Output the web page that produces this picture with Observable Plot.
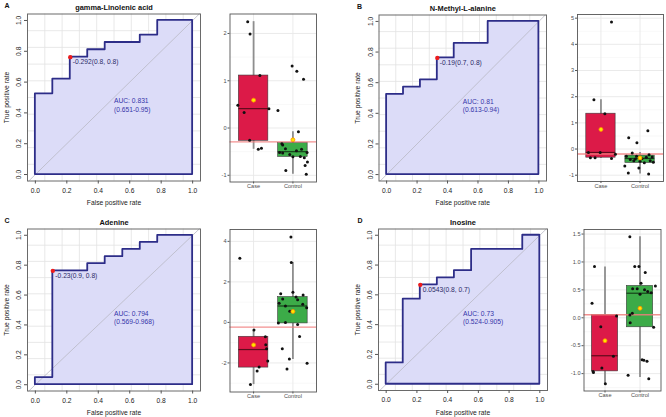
<!DOCTYPE html>
<html>
<head>
<meta charset="utf-8">
<script src="https://cdn.jsdelivr.net/npm/d3@7"></script>
<script src="https://cdn.jsdelivr.net/npm/@observablehq/plot@0.6"></script>
<style>
  body { margin: 0; background: white; }
  #chart { position: relative; width: 666px; height: 417px; background: white; overflow: hidden; }
  #chart svg { position: absolute; }
</style>
</head>
<body>
<div id="chart"></div>
<script>
// ---------- DATA ----------
const panelLetters = ["A", "B", "C", "D"];
const metabolites = ["gamma-Linolenic acid", "N-Methyl-L-alanine", "Adenine", "Inosine"];
const groups = ["Case", "Control"];

// ROC step points (false positive rate, true positive rate)
const rocA_fpr = [0, 0, 0.111, 0.222, 0.333, 0.444, 0.667, 0.778, 1];
const rocA_tpr = [0, 0.524, 0.619, 0.762, 0.810, 0.857, 0.905, 1, 1];
const rocB_fpr = [0, 0, 0.111, 0.222, 0.333, 0.444, 0.667, 1];
const rocB_tpr = [0, 0.524, 0.571, 0.619, 0.762, 0.857, 1, 1];
const rocC_fpr = [0, 0, 0.111, 0.333, 0.444, 0.556, 0.667, 0.778, 1];
const rocC_tpr = [0, 0.048, 0.762, 0.810, 0.857, 0.905, 0.952, 1, 1];
const rocD_fpr = [0, 0, 0.111, 0.222, 0.333, 0.444, 0.556, 0.889, 1];
const rocD_tpr = [0, 0.143, 0.571, 0.667, 0.714, 0.762, 0.905, 1, 1];

// best threshold point on each ROC curve
const thrFpr = [0.222, 0.333, 0.111, 0.222];
const thrTpr = [0.762, 0.762, 0.762, 0.667];
const thrLabels = ["-0.292(0.8, 0.8)", "-0.19(0.7, 0.8)", "-0.23(0.9, 0.8)", "0.0543(0.8, 0.7)"];
const thrCut = [-0.292, -0.19, -0.23, 0.0543];
const aucLabels = ["AUC: 0.831", "AUC: 0.81", "AUC: 0.794", "AUC: 0.73"];
const ciLabels = ["(0.651-0.95)", "(0.613-0.94)", "(0.569-0.968)", "(0.524-0.905)"];

const rocTicks = [0, 0.2, 0.4, 0.6, 0.8, 1.0];

// box statistics: [lower whisker, Q1, median, Q3, upper whisker, mean]
const boxA_case = [-0.45, -0.27, 0.41, 1.11, 2.25, 0.59];
const boxA_ctrl = [-0.98, -0.61, -0.50, -0.32, -0.08, -0.25];
const boxB_case = [-0.36, -0.33, -0.13, 1.35, 1.88, 0.75];
const boxB_ctrl = [-0.95, -0.53, -0.36, -0.25, -0.13, -0.34];
const boxC_case = [-3.07, -2.23, -1.34, -0.71, -0.38, -1.11];
const boxC_ctrl = [-1.83, -0.05, 0.81, 1.25, 2.95, 0.54];
const boxD_case = [-1.18, -0.96, -0.68, 0.05, 0.91, -0.41];
const boxD_ctrl = [-1.07, -0.17, 0.44, 0.57, 1.45, 0.17];

// individual samples: values and horizontal jitter (in category units)
const ptsA_caseY = [2.25, 1.99, 1.11, 0.48, 0.33, 0.41, -0.26, -0.45, -0.43];
const ptsA_caseJ = [-0.15, -0.09, 0.16, -0.40, -0.24, 0.39, -0.10, 0.12, 0.20];
const ptsA_ctrlY = [0.37, 1.31, 1.20, 1.03, -0.08, -0.33, -0.36, -0.44, -0.52, -0.53, -0.56, -0.61, -0.60, -0.63, -0.52, -0.72, -0.79, -0.90, -0.98, -0.48, -0.45];
const ptsA_ctrlJ = [-0.38, -0.02, 0.10, 0.27, 0.14, -0.28, -0.26, -0.19, -0.34, -0.26, -0.08, 0.00, 0.19, 0.29, 0.36, 0.37, 0.31, -0.18, 0.34, 0.09, 0.22];

const ptsB_caseY = [1.88, 1.35, 4.85, -0.13, -0.13, -0.20, -0.33, -0.33, -0.36];
const ptsB_caseJ = [-0.18, 0.10, 0.27, -0.32, -0.02, 0.37, -0.27, -0.15, 0.27];
const ptsB_ctrlY = [0.43, 0.24, 0.70, -0.65, -0.92, -0.72, -0.95, -0.15, -0.45, -0.36, -0.22, -0.45, -0.47, -0.40, -0.31, -0.30, -0.28, -0.52, -0.28, -0.50, -0.38];
const ptsB_ctrlJ = [-0.29, -0.08, 0.20, -0.39, -0.30, -0.03, 0.22, -0.20, -0.16, 0.05, 0.23, 0.26, 0.00, -0.25, 0.16, 0.31, -0.35, 0.11, -0.09, 0.34, -0.12];

const ptsC_caseY = [3.17, -0.38, -0.71, -1.10, -1.30, -1.90, -2.20, -2.40, -3.07];
const ptsC_caseJ = [-0.35, 0.01, 0.30, 0.31, 0.33, 0.36, 0.14, 0.09, -0.08];
const ptsC_ctrlY = [4.22, 2.95, 1.49, 1.42, 1.15, 1.25, 1.12, 1.35, 0.95, 0.81, 0.90, 0.72, 0.55, -0.03, 0.00, -0.10, -0.69, -1.30, -1.80, -2.30, -2.02];
const ptsC_ctrlJ = [-0.05, -0.04, 0.00, -0.31, -0.26, 0.08, 0.12, 0.26, -0.35, -0.19, 0.25, 0.35, -0.08, -0.37, -0.19, 0.12, 0.17, -0.27, -0.09, -0.15, 0.36];

const ptsD_caseY = [0.92, 0.26, -0.16, 0.03, -0.69, -0.90, -0.96, -0.98, -1.18];
const ptsD_caseJ = [-0.30, -0.37, -0.12, 0.33, 0.24, -0.09, -0.34, -0.33, 0.01];
const ptsD_ctrlY = [1.45, 0.92, 0.92, 0.81, 0.62, 0.52, 0.52, 0.42, 0.50, 0.47, 0.45, 0.57, 0.05, 0.08, -0.09, -0.17, -0.75, -0.76, -0.78, -1.03, -1.09];
const ptsD_ctrlJ = [-0.29, -0.15, -0.03, 0.15, 0.03, -0.21, -0.08, 0.00, 0.13, 0.22, 0.32, 0.44, -0.29, -0.22, -0.28, 0.39, 0.06, 0.11, 0.20, -0.34, 0.25];

const boxTicksA = [-1, 0, 1, 2];
const boxTicksB = [-1, 0, 1, 2, 3, 4, 5];
const boxTicksC = [-2, 0, 2, 4];
const boxTicksD = [-1, -0.5, 0, 0.5, 1, 1.5];

// ---------- LAYOUT (page pixels) ----------
// svg box [left, top, width, height], plot frame [left, top, right, bottom]
const rocLayout = [
  {svg: [0, 0, 205, 210],   frame: [27, 13.5, 200, 180.5], letterDx: -23},
  {svg: [330, 0, 221, 210], frame: [378.5, 14.5, 546, 180.5], letterDx: -22},
  {svg: [0, 215, 205, 202], frame: [27, 228.5, 200, 390.5], letterDx: -23},
  {svg: [330, 215, 222, 202], frame: [378, 228.5, 547, 390], letterDx: -21}
];
const boxLayout = [
  {svg: [210, 0, 115, 200],   frame: [229.5, 13.5, 316, 181.5]},
  {svg: [555, 0, 111, 200],   frame: [577, 14, 663, 181]},
  {svg: [210, 215, 115, 202], frame: [229.5, 229, 316, 391.5]},
  {svg: [555, 215, 111, 202], frame: [583.5, 229, 660.5, 390.5]}
];

const FONT = "'Liberation Sans', Arial, Helvetica, sans-serif";
const NAVY = "#2d2d88";

function margins(l) {
  const [sx, sy, sw, sh] = l.svg, [fl, ft, fr, fb] = l.frame;
  return {width: sw, height: sh, marginLeft: fl - sx, marginTop: ft - sy,
          marginRight: sx + sw - fr, marginBottom: sy + sh - fb};
}

function rocChart(i, fpr, tpr) {
  const l = rocLayout[i];
  const pts = fpr.map((f, k) => ({fpr: f, tpr: tpr[k]}));
  const xd = [-0.05, 1.05], yd = [-0.042, 1.042];
  const gx = d3.range(1, 10).map(k => xd[0] + k * (xd[1] - xd[0]) / 10);
  const gy = d3.range(1, 10).map(k => yd[0] + k * (yd[1] - yd[0]) / 10);
  const diag = [{v: yd[0]}, {v: yd[1]}];
  const thr = [{fpr: thrFpr[i], tpr: thrTpr[i], label: thrLabels[i]}];
  const fmt = d => d.toFixed(1);
  return Plot.plot({
    ...margins(l),
    x: {domain: xd}, y: {domain: yd},
    style: {fontFamily: FONT, fontSize: "6.7px", background: "transparent", color: "#222", overflow: "visible"},
    marks: [
      Plot.ruleX(gx, {stroke: "#e2e2e2", strokeWidth: 0.8}),
      Plot.ruleY(gy, {stroke: "#e2e2e2", strokeWidth: 0.8}),
      Plot.areaY(pts, {x: "fpr", y: "tpr", curve: "step-after", fill: "#dcdcf8"}),
      Plot.line(diag, {x: "v", y: "v", stroke: "#b9b9c4", strokeWidth: 0.8}),
      Plot.areaY(pts, {x: "fpr", y: "tpr", curve: "step-after", fill: "none", stroke: NAVY, strokeWidth: 1.8}),
      Plot.frame({stroke: "#6a6a6a", strokeWidth: 1}),
      Plot.axisX({ticks: rocTicks, tickFormat: fmt, tickSize: 3, tickPadding: 4, label: null, stroke: "#555"}),
      Plot.axisY({ticks: rocTicks, tickFormat: fmt, tickSize: 3, tickPadding: 3.5, tickRotate: -90, label: null, stroke: "#555"}),
      Plot.dot(thr, {x: "fpr", y: "tpr", r: 2.2, fill: "#ee1c1c"}),
      Plot.text(thr, {x: "fpr", y: "tpr", text: "label", textAnchor: "start", dx: 2.5, dy: 5, fill: "#2a2a66"}),
      Plot.text([[aucLabels[i], ciLabels[i]]], {x: () => 0.5, y: () => 0.5, text: d => d.join("\n"),
        textAnchor: "start", lineAnchor: "top", lineHeight: 1.25, fill: "#3434a8"}),
      Plot.text([metabolites[i]], {frameAnchor: "top", lineAnchor: "middle", dy: -6.8, fontWeight: "bold", fontSize: 7.4, fill: "#111"}),
      Plot.text([panelLetters[i]], {frameAnchor: "top-left", lineAnchor: "middle", textAnchor: "start", dx: l.letterDx, dy: -8.5, fontWeight: "bold", fontSize: 7, fill: "#111"}),
      Plot.text(["False positive rate"], {frameAnchor: "bottom", lineAnchor: "middle", dy: 22, fill: "#222"}),
      Plot.text(["True positive rate"], {frameAnchor: "left", textAnchor: "middle", lineAnchor: "middle", dx: -21, rotate: -90, fill: "#222"})
    ]
  });
}

function boxChart(i, caseStats, ctrlStats, caseY, caseJ, ctrlY, ctrlJ, ticks, fmt) {
  const l = boxLayout[i];
  const mk = (s, pos, fill, med) => ({pos, lo: s[0], q1: s[1], med: s[2], q3: s[3], hi: s[4], mean: s[5], fill, medc: med});
  const stats = [mk(caseStats, 1, "#dc1a48", "#5e0b1c"), mk(ctrlStats, 2, "#3cab48", "#16421a")];
  const pts = [
    ...caseY.map((y, k) => ({x: 1 + caseJ[k], y})),
    ...ctrlY.map((y, k) => ({x: 2 + ctrlJ[k], y}))
  ];
  const all = [...caseY, ...ctrlY, ...caseStats, ...ctrlStats];
  const [lo, hi] = d3.extent(all);
  const pad = (hi - lo) * 0.05;
  const yd = [lo - pad, hi + pad];
  const step = ticks[1] - ticks[0];
  const minor = [ticks[0] - step / 2, ...ticks.map(t => t + step / 2)].filter(v => v > yd[0] && v < yd[1]);
  const hw = 0.375;
  return Plot.plot({
    ...margins(l),
    x: {domain: [0.4, 2.6]}, y: {domain: yd},
    color: {type: "identity"},
    style: {fontFamily: FONT, fontSize: "5.6px", background: "transparent", color: "#4d4d4d", overflow: "visible"},
    marks: [
      Plot.ruleY(minor, {stroke: "#f0f0f0", strokeWidth: 0.5}),
      Plot.ruleY(ticks, {stroke: "#e8e8e8", strokeWidth: 0.9}),
      Plot.ruleX([1, 2], {stroke: "#e8e8e8", strokeWidth: 0.9}),
      Plot.ruleX(stats, {x: "pos", y1: "lo", y2: "hi", stroke: "#8e8e8e", strokeWidth: 1.8}),
      Plot.rect(stats, {x1: d => d.pos - hw, x2: d => d.pos + hw, y1: "q1", y2: "q3", fill: "fill", stroke: "#3a3a3a", strokeWidth: 0.6}),
      Plot.ruleY(stats, {y: "med", x1: d => d.pos - hw, x2: d => d.pos + hw, stroke: "medc", strokeWidth: 1.2}),
      Plot.ruleY([thrCut[i]], {stroke: "#f07c7c", strokeWidth: 1.3, strokeOpacity: 0.85}),
      Plot.dot(pts, {x: "x", y: "y", r: 1.5, fill: "#111"}),
      Plot.dot(stats, {x: "pos", y: "mean", r: 2, fill: "#ffe800", stroke: "#ff8c00", strokeWidth: 0.8}),
      Plot.frame({stroke: "#555", strokeWidth: 0.9}),
      Plot.axisY({ticks, tickFormat: fmt, tickSize: 2, tickPadding: 1.5, label: null, stroke: "#555"}),
      Plot.axisX({ticks: [1, 2], tickFormat: d => groups[d - 1], tickSize: 2, tickPadding: 0.5, label: null, stroke: "#555"})
    ]
  });
}

const chart = document.getElementById("chart");
function place(svg, l) {
  svg.style.position = "absolute";
  svg.style.left = l.svg[0] + "px";
  svg.style.top = l.svg[1] + "px";
  svg.style.maxWidth = "none";
  chart.appendChild(svg);
}

const intFmt = d => String(d);
const decFmt = d => d.toFixed(1);

place(rocChart(0, rocA_fpr, rocA_tpr), rocLayout[0]);
place(rocChart(1, rocB_fpr, rocB_tpr), rocLayout[1]);
place(rocChart(2, rocC_fpr, rocC_tpr), rocLayout[2]);
place(rocChart(3, rocD_fpr, rocD_tpr), rocLayout[3]);

place(boxChart(0, boxA_case, boxA_ctrl, ptsA_caseY, ptsA_caseJ, ptsA_ctrlY, ptsA_ctrlJ, boxTicksA, intFmt), boxLayout[0]);
place(boxChart(1, boxB_case, boxB_ctrl, ptsB_caseY, ptsB_caseJ, ptsB_ctrlY, ptsB_ctrlJ, boxTicksB, intFmt), boxLayout[1]);
place(boxChart(2, boxC_case, boxC_ctrl, ptsC_caseY, ptsC_caseJ, ptsC_ctrlY, ptsC_ctrlJ, boxTicksC, intFmt), boxLayout[2]);
place(boxChart(3, boxD_case, boxD_ctrl, ptsD_caseY, ptsD_caseJ, ptsD_ctrlY, ptsD_ctrlJ, boxTicksD, decFmt), boxLayout[3]);
</script>
</body>
</html>
